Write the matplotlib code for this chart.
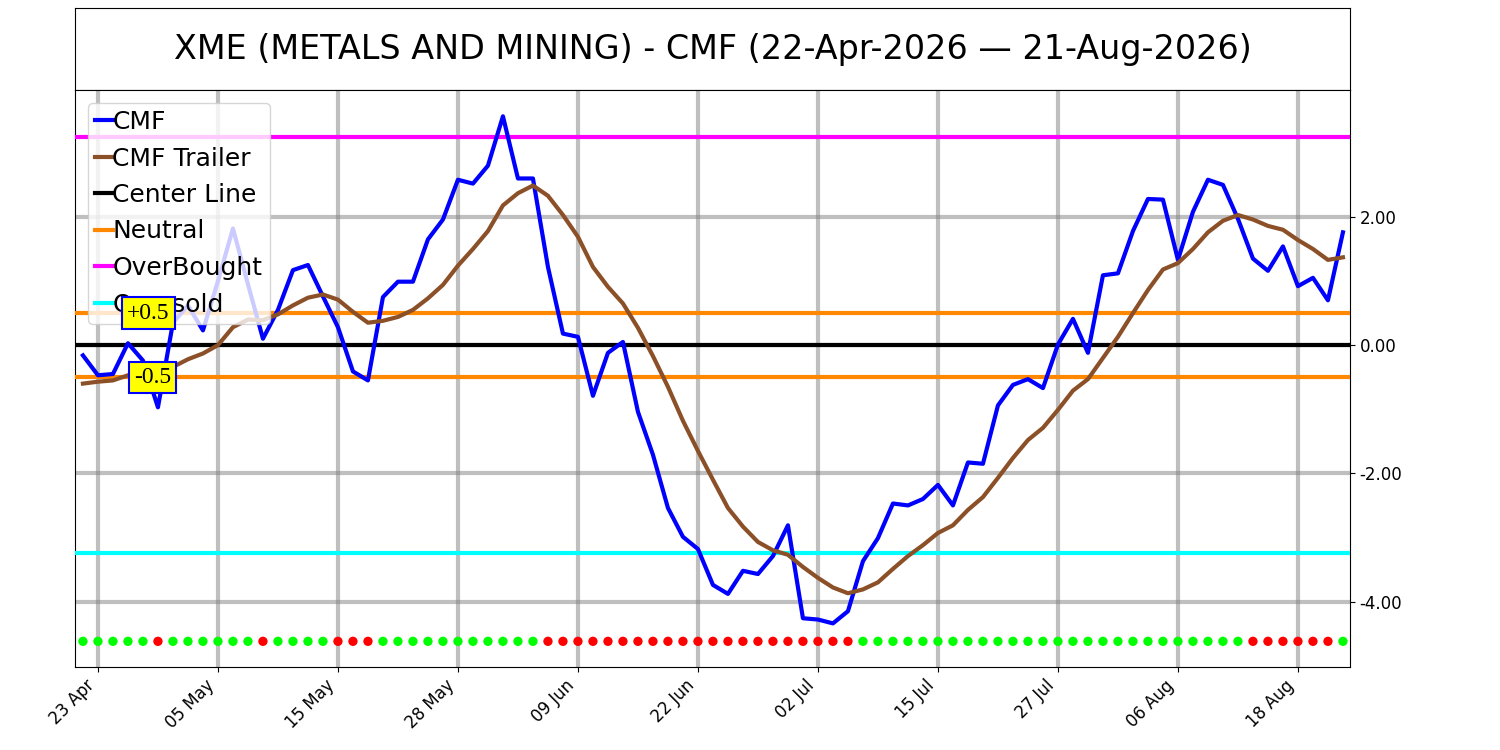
import matplotlib
matplotlib.use("Agg")
import matplotlib.pyplot as plt
import numpy as np
import pandas as pd

plt.rcParams['axes.unicode_minus'] = False

# trading days 22 Apr 2026 .. 21 Aug 2026 (NYSE holidays removed)
holidays = ['2026-05-25', '2026-06-19', '2026-07-03']
dates = [d for d in pd.bdate_range('2026-04-22', '2026-08-21') if d.strftime('%Y-%m-%d') not in holidays]

cmf = [-0.16, -0.47, -0.45, 0.03, -0.24, -0.97, 0.35, 0.62, 0.23, 1.00,
       1.82, 0.95, 0.10, 0.55, 1.17, 1.25, 0.76, 0.28, -0.41, -0.55,
       0.75, 0.99, 0.99, 1.65, 1.96, 2.58, 2.52, 2.80, 3.57, 2.60,
       2.60, 1.22, 0.18, 0.13, -0.79, -0.12, 0.05, -1.04, -1.71, -2.54,
       -2.99, -3.18, -3.74, -3.88, -3.52, -3.57, -3.29, -2.81, -4.26, -4.28,
       -4.34, -4.15, -3.37, -3.01, -2.47, -2.50, -2.40, -2.18, -2.50, -1.83,
       -1.85, -0.94, -0.62, -0.53, -0.67, 0.01, 0.41, -0.12, 1.09, 1.12,
       1.78, 2.28, 2.27, 1.33, 2.08, 2.58, 2.50, 1.97, 1.35, 1.16,
       1.54, 0.92, 1.05, 0.70, 1.76]

trailer = [-0.60, -0.57, -0.55, -0.47, -0.42, -0.43, -0.34, -0.22, -0.13, 0.00,
           0.28, 0.40, 0.39, 0.48, 0.62, 0.74, 0.79, 0.71, 0.52, 0.35,
           0.38, 0.44, 0.55, 0.73, 0.94, 1.24, 1.50, 1.78, 2.18, 2.37,
           2.49, 2.33, 2.03, 1.69, 1.22, 0.91, 0.65, 0.27, -0.17, -0.65,
           -1.18, -1.65, -2.10, -2.54, -2.83, -3.07, -3.20, -3.27, -3.46, -3.63,
           -3.78, -3.87, -3.81, -3.70, -3.49, -3.29, -3.12, -2.93, -2.81, -2.57,
           -2.37, -2.07, -1.76, -1.48, -1.29, -1.01, -0.71, -0.53, -0.20, 0.13,
           0.50, 0.86, 1.18, 1.28, 1.50, 1.76, 1.94, 2.03, 1.96, 1.86,
           1.80, 1.64, 1.50, 1.33, 1.37]

# G = bullish dot, R = bearish dot
signal = "G" * 5 + "R" + "G" * 6 + "R" + "G" * 4 + "R" * 3 + "G" * 11 + "R" * 21 + "G" * 26 + "R" * 6 + "G"

center = 0.0
neutral = 0.5
overbought = 3.24
oversold = -3.24
dot_level = -4.62

title = "XME (METALS AND MINING) - CMF (22-Apr-2026 \u2014 21-Aug-2026)"

x = np.arange(len(cmf))

fig = plt.figure(figsize=(15, 7.5), dpi=100)

# title box
tax = fig.add_axes([0.05, 0.88, 0.85, 0.1093])
tax.set_xticks([])
tax.set_yticks([])
tax.text(0.5, 0.5, title, ha='center', va='center', fontsize=24, transform=tax.transAxes)

ax = fig.add_axes([0.05, 0.1107, 0.85, 0.7693])

ax.plot(x, cmf, color='blue', lw=3, label='CMF', zorder=4)
ax.plot(x, trailer, color='#8B5028', lw=3, label='CMF Trailer', zorder=4)
ax.axhline(center, color='black', lw=3, label='Center Line', zorder=3)
ax.axhline(neutral, color='#ff8800', lw=3, label='Neutral', zorder=3)
ax.axhline(-neutral, color='#ff8800', lw=3, zorder=3)
ax.axhline(overbought, color='#ff00ff', lw=3, label='OverBought', zorder=3)
ax.axhline(oversold, color='cyan', lw=3, label='Oversold', zorder=3)

dot_colors = ['#00ff00' if s == 'G' else '#ff0000' for s in signal]
ax.scatter(x, [dot_level] * len(x), c=dot_colors, s=45, zorder=5, edgecolors='none')

ax.set_xlim(-0.53, 84.47)
ax.set_ylim(-5.02, 3.98)

tick_idx = list(range(1, len(dates), 8))
ax.set_xticks(tick_idx)
ax.set_xticklabels([dates[i].strftime('%d %b') for i in tick_idx], rotation=45, ha='right', fontsize=12)

ax.yaxis.tick_right()
ax.set_yticks([-4, -2, 0, 2])
ax.set_yticklabels(['%.2f' % v for v in [-4, -2, 0, 2]], fontsize=12)

ax.grid(True, color='gray', alpha=0.5, lw=3, zorder=0)
ax.set_axisbelow(True)

leg = ax.legend(loc='upper left', fontsize=18, handlelength=0.7, handletextpad=0.0,
                labelspacing=0.5, borderpad=0.3, borderaxespad=0.5)
leg.set_zorder(6)

box = dict(boxstyle='square,pad=0.22', facecolor='yellow', edgecolor='blue', lw=1.5)
ax.text(4.35, neutral, '+0.5', ha='center', va='center', fontsize=17, family='Liberation Serif',
        bbox=box, zorder=7)
ax.text(4.65, -neutral, '-0.5', ha='center', va='center', fontsize=17, family='Liberation Serif',
        bbox=box, zorder=7)

fig.savefig('out.png', dpi=100)
